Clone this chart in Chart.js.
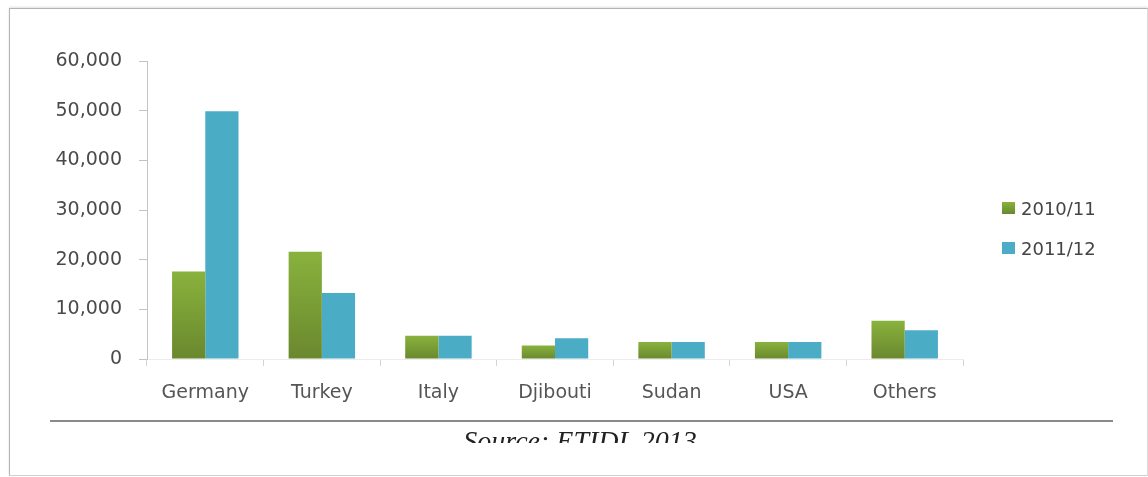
<!DOCTYPE html>
<html>
<head>
<meta charset="utf-8">
<script src="https://cdn.jsdelivr.net/npm/chart.js@4.4.1/dist/chart.umd.min.js"></script>
<style>
  html, body { margin: 0; padding: 0; background: #fff; }
  body { width: 1148px; height: 477px; position: relative; overflow: hidden; }
  #frame {
    position: absolute; left: 9px; top: 8px; width: 1137px; height: 466px;
    border: 1px solid #b4b4b4; border-right-color: #dcdcdc; border-bottom-color: #d0d0d0;
    box-shadow: 0 -1px 2px rgba(0,0,0,0.12);
  }
  #chart { position: absolute; left: 0; top: 0; }
  #rule {
    position: absolute; left: 50px; top: 420px; width: 1063px; height: 2px;
    background: #8a8a8a;
  }
  #source {
    position: absolute; left: 380px; top: 424px; width: 400px; height: 19px;
    overflow: hidden; text-align: center;
    font: italic 28px "Liberation Serif", "DejaVu Serif", serif; color: #222;
    line-height: 34px;
  }
  #legend {
    position: absolute; left: 1002px; top: 196px;
    font: 18px "DejaVu Sans", sans-serif; color: #444;
  }
  .item { display: flex; align-items: center; height: 24px; margin-bottom: 16px; }
  .box { width: 13px; height: 12px; margin-right: 6px; }
</style>
</head>
<body>
<div id="frame"></div>
<canvas id="chart" width="1148" height="477"></canvas>
<div id="rule"></div>
<div id="source">Source: ETIDL 2013</div>
<div id="legend"></div>
<script>
// Destinations and yearly values
const categories = ["Germany", "Turkey", "Italy", "Djibouti", "Sudan", "USA", "Others"];
const seriesNames = ["2010/11", "2011/12"];
const values2010 = [17600, 21600, 4700, 2700, 3400, 3400, 7700];
const values2011 = [49900, 13300, 4700, 4200, 3400, 3400, 5800];
const yTicks = [0, 10000, 20000, 30000, 40000, 50000, 60000];

const greenTop = "#89b23d";
const greenBottom = "#6a882e";
const blue = "#4bacc6";

// Per-bar vertical gradient for the green series
function greenFill(ctx) {
  const chart = ctx.chart;
  const area = chart.chartArea;
  if (!area || ctx.raw == null) return "#7ea13a";
  const y = chart.scales.y;
  const top = y.getPixelForValue(ctx.raw);
  const bottom = y.getPixelForValue(0);
  const g = chart.ctx.createLinearGradient(0, top, 0, bottom);
  g.addColorStop(0, greenTop);
  g.addColorStop(1, greenBottom);
  return g;
}

const tickFont = { family: "DejaVu Sans", size: 19 };

new Chart(document.getElementById("chart"), {
  type: "bar",
  data: {
    labels: categories,
    datasets: [
      { label: seriesNames[0], data: values2010, backgroundColor: greenFill, borderWidth: 0 },
      { label: seriesNames[1], data: values2011, backgroundColor: blue, borderWidth: 0 }
    ]
  },
  options: {
    responsive: false,
    devicePixelRatio: 1,
    animation: false,
    layout: { padding: { left: 20, right: 185, top: 61, bottom: 60 } },
    datasets: { bar: { barPercentage: 1.0, categoryPercentage: 0.57 } },
    plugins: { legend: { display: false }, tooltip: { enabled: false } },
    scales: {
      x: {
        grid: { display: true, drawOnChartArea: false, offset: true, tickLength: 7, color: "#d4d4d4" },
        border: { display: true, color: "#ececec" },
        ticks: { font: tickFont, color: "#555555", padding: 16, maxRotation: 0 },
        afterFit: (s) => { s.height = 58; }
      },
      y: {
        min: 0, max: 60000,
        afterBuildTicks: (s) => { s.ticks = yTicks.map(v => ({ value: v })); },
        grid: { display: true, drawOnChartArea: false, tickLength: 8, color: "#c4c4c4" },
        border: { display: true, color: "#c4c4c4" },
        ticks: {
          font: tickFont, color: "#4a4a4a", padding: 17,
          callback: (v) => v.toLocaleString("en-US")
        },
        afterFit: (s) => { s.width = 127; }
      }
    }
  }
});

// Legend entries
const legend = document.getElementById("legend");
seriesNames.forEach((name, i) => {
  const item = document.createElement("div");
  item.className = "item";
  const box = document.createElement("div");
  box.className = "box";
  box.style.background = i === 0 ? "linear-gradient(" + greenTop + ", " + greenBottom + ")" : blue;
  const txt = document.createElement("span");
  txt.textContent = name;
  item.appendChild(box);
  item.appendChild(txt);
  legend.appendChild(item);
});
</script>
</body>
</html>
